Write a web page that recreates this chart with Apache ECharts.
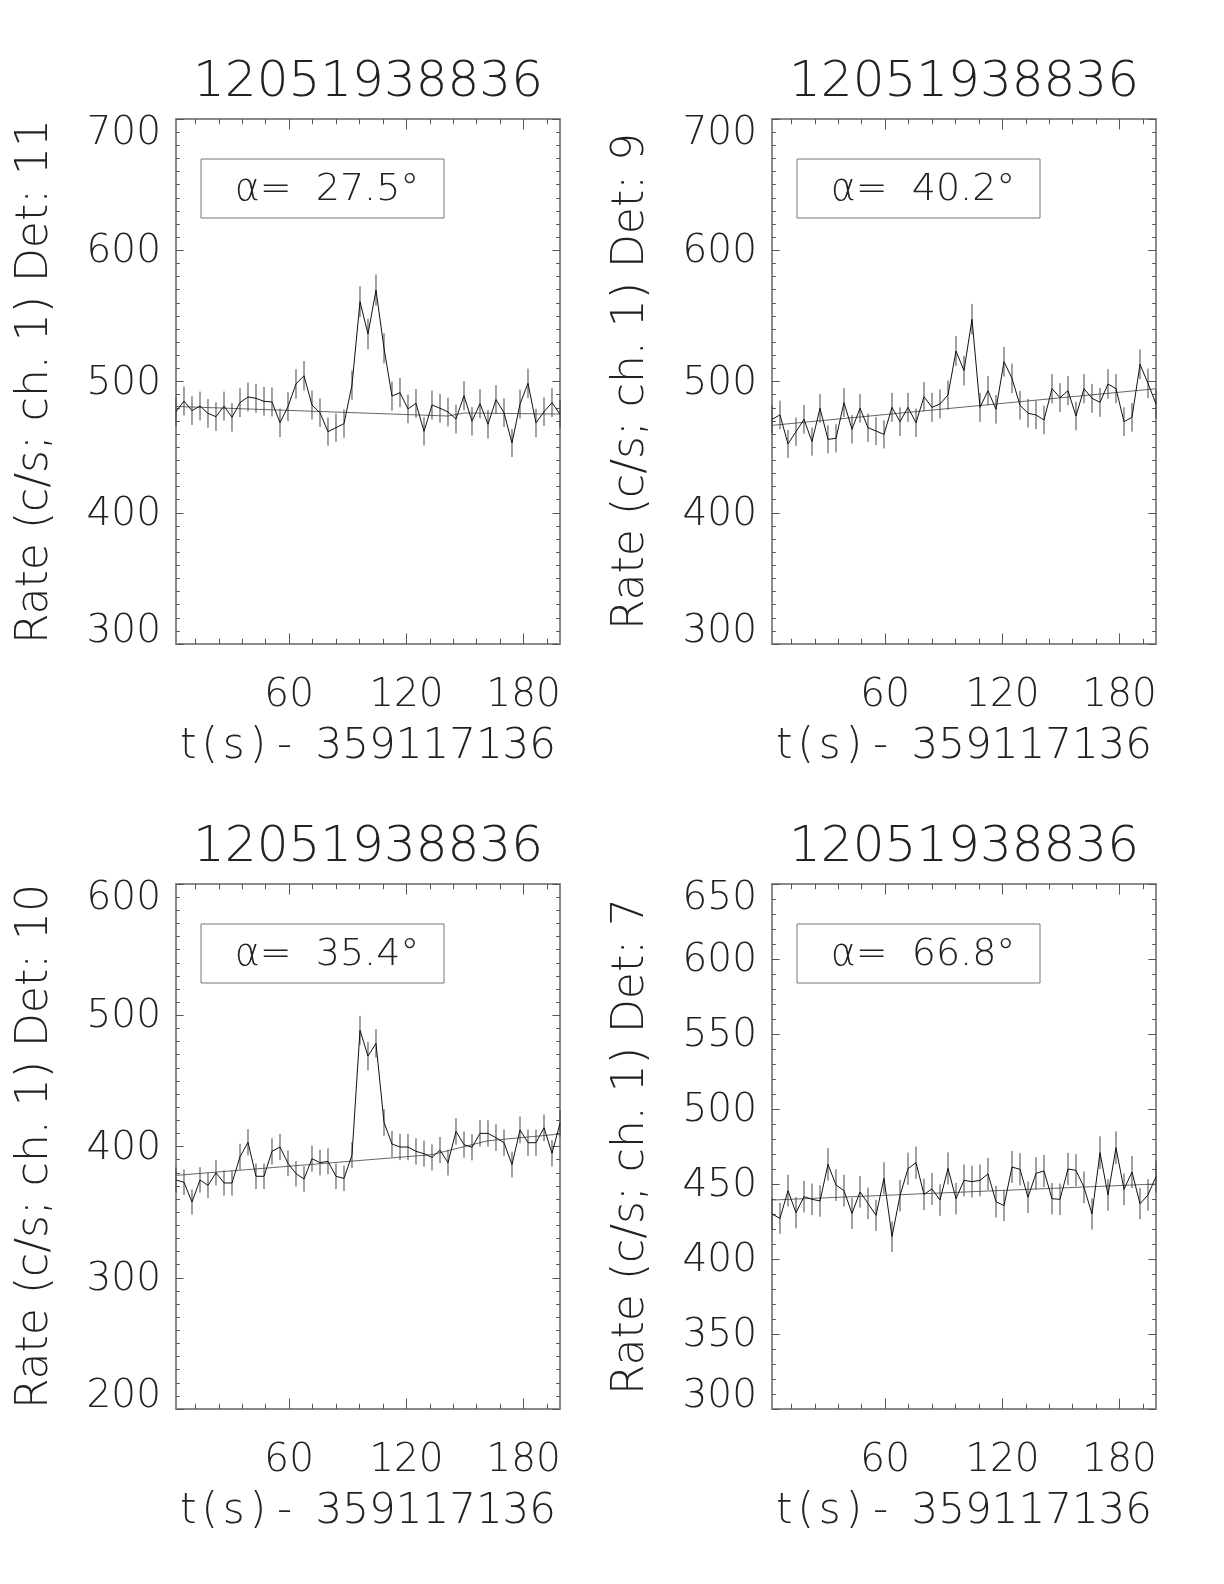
<!DOCTYPE html>
<html><head><meta charset="utf-8">
<script src="https://cdn.jsdelivr.net/npm/echarts@6/dist/echarts.min.js"></script>
<style>html,body{margin:0;padding:0;background:#fff}#c{width:1224px;height:1584px}</style>
</head><body><div id="c"></div>
<script>
// ---- data ----
const panelTitle = '12051938836';
const xAxisName = 't(s)- 359117136';
const xMajorTicks = [60, 120, 180];
const xMinorTicks = [12, 24, 36, 48, 72, 84, 96, 108, 132, 144, 156, 168, 192];
const times = [2.05, 6.14, 10.24, 14.34, 18.43, 22.53, 26.63, 30.72, 34.82, 38.91,
  43.01, 47.11, 51.20, 55.30, 59.39, 63.49, 67.59, 71.68, 75.78, 79.87,
  83.97, 88.07, 92.16, 96.26, 100.35, 104.45, 108.55, 112.64, 116.74, 120.83,
  124.93, 129.03, 133.12, 137.22, 141.31, 145.41, 149.51, 153.60, 157.70, 161.79,
  165.89, 169.99, 174.08, 178.18, 182.27, 186.37, 190.47, 194.56, 198.66];

const det11Rate = [477.0,485.1,477.8,481.3,475.7,473.2,481.3,472.7,483.9,488.2,
  487.2,484.9,484.4,468.6,480.8,498.1,504.4,482.1,476.2,461.8,
  464.8,467.9,497.3,560.8,536.2,569.7,525.3,488.9,491.5,479.1,
  483.4,462.0,482.1,479.6,476.8,471.4,489.2,469.7,483.1,467.4,
  486.2,476.2,453.1,482.8,498.6,468.4,477.0,483.9,475.0];
const det11Err = [11.0,11.0,10.9,11.0,10.9,10.9,11.0,10.9,11.0,11.0,
  11.0,11.0,11.0,10.8,11.0,11.2,11.2,11.0,10.9,10.7,
  10.8,10.8,11.2,11.8,11.6,11.9,11.5,11.1,11.1,10.9,
  11.0,10.8,11.0,10.9,10.9,10.9,11.1,10.8,11.0,10.8,
  11.0,10.9,10.6,11.0,11.2,10.8,10.9,11.0,10.9];
const det11FitTime = [2.05, 88.07, 141.31, 149.51, 198.66];
const det11FitRate = [481.0, 476.5, 473.7, 476.0, 475.2];

const det9Rate = [471.2,474.5,452.4,461.8,471.2,454.2,479.6,455.9,456.7,483.9,
  463.6,479.6,464.8,462.3,459.7,480.3,469.4,480.3,468.6,488.4,
  480.3,482.9,489.7,523.2,508.3,547.4,480.3,493.0,478.8,515.1,
  502.4,481.9,475.8,474.5,470.7,494.5,487.7,493.0,473.7,494.5,
  487.2,484.1,498.1,494.5,469.4,472.7,513.1,498.6,482.9];
const det9Err = [10.9,10.9,10.6,10.7,10.9,10.7,11.0,10.7,10.7,11.0,
  10.8,11.0,10.8,10.8,10.7,11.0,10.9,11.0,10.8,11.1,
  11.0,11.0,11.1,11.4,11.3,11.7,11.0,11.1,10.9,11.3,
  11.2,11.0,10.9,10.9,10.9,11.1,11.0,11.1,10.9,11.1,
  11.0,11.0,11.2,11.1,10.9,10.9,11.3,11.2,11.0];
const det9FitTime = [2.05, 198.66];
const det9FitRate = [466.6, 494.5];

const det10Rate = [374.5,372.7,357.7,374.5,370.4,380.0,372.2,372.2,392.2,403.2,
  377.3,377.3,396.3,399.6,387.2,379.3,375.2,390.7,387.7,388.7,
  377.3,375.7,393.5,488.5,468.9,478.6,418.4,401.9,399.6,399.6,
  396.3,394.5,391.7,397.3,387.7,411.5,401.4,399.4,410.0,410.0,
  406.7,402.9,386.2,412.6,402.9,402.9,414.3,394.8,417.6];
const det10Err = [9.7,9.7,9.5,9.7,9.6,9.7,9.6,9.6,9.9,10.0,
  9.7,9.7,10.0,10.0,9.8,9.7,9.7,9.9,9.8,9.9,
  9.7,9.7,9.9,11.0,10.8,10.9,10.2,10.0,10.0,10.0,
  10.0,9.9,9.9,10.0,9.8,10.1,10.0,10.0,10.1,10.1,
  10.1,10.0,9.8,10.2,10.0,10.0,10.2,9.9,10.2];
const det10FitTime = [2.05, 133.12, 161.79, 198.66];
const det10FitRate = [378.0, 393.8, 404.4, 409.5];

const det7Rate = [430.0,427.1,445.6,430.9,441.6,439.8,438.7,463.1,449.3,445.6,
  430.4,444.7,437.1,429.1,453.8,414.9,442.2,460.2,464.2,443.1,
  446.7,439.3,460.4,440.2,452.4,451.6,452.4,456.7,438.2,435.6,
  461.3,459.8,441.1,457.1,458.7,440.2,439.8,460.0,459.1,447.8,
  430.0,470.9,442.7,474.2,446.4,458.0,436.9,442.7,454.9];
const det7Err = [10.4,10.3,10.6,10.4,10.5,10.5,10.5,10.8,10.6,10.6,
  10.4,10.5,10.5,10.4,10.6,10.2,10.5,10.7,10.8,10.5,
  10.6,10.5,10.7,10.5,10.6,10.6,10.6,10.7,10.5,10.4,
  10.7,10.7,10.5,10.7,10.7,10.5,10.5,10.7,10.7,10.6,
  10.4,10.9,10.5,10.9,10.6,10.7,10.4,10.5,10.7];
const det7FitTime = [2.05, 198.66];
const det7FitRate = [439.3, 450.0];

const panels = [
  {det: '11', alpha: '27.5', yMin: 300, yMax: 700, yStep: 100, rate: det11Rate, err: det11Err, fitT: det11FitTime, fitR: det11FitRate},
  {det: '9',  alpha: '40.2', yMin: 300, yMax: 700, yStep: 100, rate: det9Rate,  err: det9Err,  fitT: det9FitTime,  fitR: det9FitRate},
  {det: '10', alpha: '35.4', yMin: 200, yMax: 600, yStep: 100, rate: det10Rate, err: det10Err, fitT: det10FitTime, fitR: det10FitRate},
  {det: '7',  alpha: '66.8', yMin: 300, yMax: 650, yStep: 50,  rate: det7Rate,  err: det7Err,  fitT: det7FitTime,  fitR: det7FitRate}
];

// ---- layout / style ----
const FONT = 'DejaVu Sans';
const FW = 200;
const TXT = '#222';
const AX = '#8a8a8a';
const TK = '#555';
const gridPos = [[176, 119], [772, 119], [176, 884], [772, 884]];
const GW = 384, GH = 525;

const grids = [], xAxes = [], yAxes = [], series = [], graphics = [];
const fnt = (size, extra) => Object.assign({fontSize: size, fontFamily: FONT, fontWeight: FW, color: TXT}, extra || {});

const xNameRich = xAxisName.replace('(', '{w|(}').replace(')', '{w|)}').replace('-', '{m|-}');

panels.forEach((p, gi) => {
  const [L, T] = gridPos[gi];
  grids.push({left: L, top: T, width: GW, height: GH, containLabel: false});
  const xBase = {type: 'value', gridIndex: gi, min: times[0], max: times[times.length - 1],
    splitLine: {show: false}, axisLabel: {show: false}, axisTick: {show: false}, axisLine: {show: false}};
  const lineS = {color: AX, width: 2};
  const tickS = {color: TK, width: 1};
  xAxes.push(Object.assign({}, xBase, {
    position: 'bottom',
    axisLine: {show: true, onZero: false, lineStyle: lineS},
    axisTick: {show: true, inside: true, length: 10.5, customValues: xMajorTicks, lineStyle: tickS},
    axisLabel: Object.assign({show: true, customValues: xMajorTicks, margin: 32}, fnt(39)),
    name: xNameRich, nameLocation: 'middle', nameGap: 103,
    nameTextStyle: fnt(42, {verticalAlign: 'middle', rich: {
      w: fnt(42, {padding: [0, 5, 0, 5]}),
      m: fnt(42, {padding: [0, 10, 0, 6]})
    }})
  }));
  xAxes.push(Object.assign({}, xBase, {
    position: 'bottom',
    axisTick: {show: true, inside: true, length: 5.25, customValues: xMinorTicks, lineStyle: tickS}
  }));
  xAxes.push(Object.assign({}, xBase, {
    position: 'top',
    axisLine: {show: true, onZero: false, lineStyle: lineS},
    axisTick: {show: true, inside: true, length: 10.5, customValues: xMajorTicks, lineStyle: tickS}
  }));
  xAxes.push(Object.assign({}, xBase, {
    position: 'top',
    axisTick: {show: true, inside: true, length: 5.25, customValues: xMinorTicks, lineStyle: tickS}
  }));

  const minor = {show: true, splitNumber: p.yStep / 10, length: 3.85, lineStyle: tickS};
  yAxes.push({
    type: 'value', gridIndex: gi, position: 'left', min: p.yMin, max: p.yMax, interval: p.yStep,
    splitLine: {show: false}, minorSplitLine: {show: false},
    axisLine: {show: true, onZero: false, lineStyle: lineS},
    axisTick: {show: true, inside: true, length: 7.7, lineStyle: tickS},
    minorTick: minor,
    axisLabel: Object.assign({
      show: true, margin: 15,
      formatter: v => v === p.yMax ? '{top|' + v + '}' : (v === p.yMin ? '{bot|' + v + '}' : '{n|' + v + '}'),
      rich: {
        top: fnt(39, {padding: [30, 0, 0, 0]}),
        bot: fnt(39, {padding: [0, 0, 24, 0]}),
        n: fnt(39, {padding: [4, 0, 0, 0]})
      }
    }, fnt(39)),
    name: 'Rate (c/s; ch. 1) Det: ' + p.det, nameLocation: 'middle', nameGap: 140,
    nameTextStyle: fnt(44, {verticalAlign: 'middle'})
  });
  yAxes.push({
    type: 'value', gridIndex: gi, position: 'right', min: p.yMin, max: p.yMax, interval: p.yStep,
    splitLine: {show: false}, minorSplitLine: {show: false},
    axisLine: {show: true, onZero: false, lineStyle: lineS},
    axisTick: {show: true, inside: true, length: 7.7, lineStyle: tickS},
    minorTick: minor,
    axisLabel: {show: false}
  });

  const xi = gi * 4, yi = gi * 2;
  series.push({
    type: 'line', xAxisIndex: xi, yAxisIndex: yi, symbol: 'none', animation: false,
    data: p.fitT.map((t, i) => [t, p.fitR[i]]),
    lineStyle: {color: '#666', width: 1}, z: 2
  });
  series.push({
    type: 'custom', xAxisIndex: xi, yAxisIndex: yi, animation: false,
    data: times.map((t, i) => [t, p.rate[i] - p.err[i], p.rate[i] + p.err[i]]),
    encode: {x: 0, y: [1, 2]},
    renderItem: (params, api) => {
      const lo = api.coord([api.value(0), api.value(1)]);
      const hi = api.coord([api.value(0), api.value(2)]);
      return {type: 'line', shape: {x1: lo[0], y1: lo[1], x2: hi[0], y2: hi[1]},
        style: {stroke: '#444', lineWidth: 1}};
    }, z: 3
  });
  series.push({
    type: 'line', xAxisIndex: xi, yAxisIndex: yi, symbol: 'none', animation: false,
    data: times.map((t, i) => [t, p.rate[i]]),
    lineStyle: {color: '#111', width: 1}, z: 4
  });

  graphics.push({
    type: 'text', x: L + GW / 2, y: T - 36,
    style: {text: panelTitle, align: 'center', verticalAlign: 'middle',
      fontSize: 50, fontFamily: FONT, fontWeight: FW, fill: TXT}
  });
  graphics.push({
    type: 'rect', shape: {x: L + 25, y: T + 40, width: 243, height: 59},
    style: {fill: 'none', stroke: '#777', lineWidth: 1}
  });
  graphics.push({
    type: 'text', x: L + 25 + 126, y: T + 40 + 31,
    style: {text: 'α=  ' + p.alpha + '°', align: 'center', verticalAlign: 'middle',
      fontSize: 38, fontFamily: FONT, fontWeight: FW, fill: TXT}
  });
});

const chart = echarts.init(document.getElementById('c'), null, {renderer: 'canvas'});
chart.setOption({
  animation: false,
  backgroundColor: '#fff',
  grid: grids, xAxis: xAxes, yAxis: yAxes, series: series, graphic: graphics
});
</script>
</body></html>
